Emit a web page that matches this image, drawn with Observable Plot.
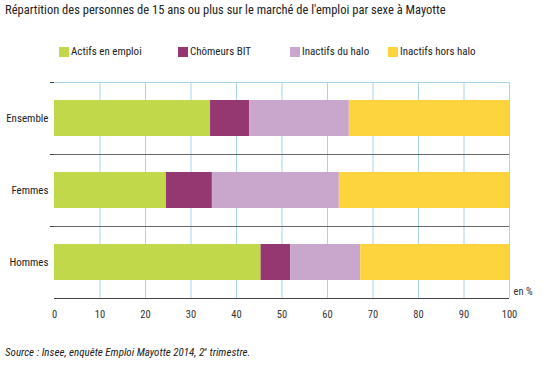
<!DOCTYPE html>
<html><head><meta charset="utf-8">
<script src="https://cdn.jsdelivr.net/npm/d3@7"></script>
<script src="https://cdn.jsdelivr.net/npm/@observablehq/plot@0.6"></script>
<style>
body{margin:0;background:#fff;font-family:"Roboto Condensed","Liberation Sans",Arial,sans-serif;color:#222;width:553px;height:369px;overflow:hidden}
#title{position:absolute;left:5px;top:2px;font-size:12.5px;white-space:nowrap;color:#222}
#legend{position:absolute;left:0;top:46px;font-size:11px;color:#222}
.li{position:absolute;top:0;white-space:nowrap;height:12px;line-height:12px}
.sw{position:absolute;left:0;top:1px;width:10px;height:10px}
.lt{position:absolute;left:12px;top:0}
#chart{position:absolute;left:0;top:70px}
#src{position:absolute;left:5px;top:345px;font-size:11px;font-style:italic;white-space:nowrap;color:#222}
</style></head><body>
<div id="title">Répartition des personnes de 15 ans ou plus sur le marché de l'emploi par sexe à Mayotte</div>
<div id="legend"></div>
<div id="chart"></div>
<div id="src">Source : Insee, enquête Emploi Mayotte 2014, 2<sup style="font-size:6px">e</sup> trimestre.</div>
<script>
const categories = ["Ensemble", "Femmes", "Hommes"];
const series = ["Actifs en emploi", "Chômeurs BIT", "Inactifs du halo", "Inactifs hors halo"];
const actifs = [34.3, 24.6, 45.4];
const chomeurs = [8.6, 10.1, 6.5];
const halo = [21.9, 27.9, 15.4];
const horsHalo = [35.2, 37.4, 32.7];
const xTicks = [0, 10, 20, 30, 40, 50, 60, 70, 80, 90, 100];
const colors = ["#c0d84a", "#953770", "#c9a7cd", "#fdd43d"];

const values = [actifs, chomeurs, halo, horsHalo];
const data = [];
series.forEach((s, si) => categories.forEach((c, ci) => data.push({cat: c, series: s, value: values[si][ci]})));

const legendX = [59, 178, 290, 388];
const leg = document.getElementById("legend");
series.forEach((s, i) => {
  const d = document.createElement("div");
  d.className = "li"; d.style.left = legendX[i] + "px";
  d.innerHTML = `<span class="sw" style="background:${colors[i]}"></span><span class="lt">${s}</span>`;
  leg.appendChild(d);
});

const plot = Plot.plot({
  width: 553, height: 260,
  marginLeft: 54, marginRight: 44, marginTop: 12, marginBottom: 32,
  style: {fontFamily: '"Roboto Condensed","Liberation Sans",Arial,sans-serif', fontSize: "10px", color: "#333", background: "#fff"},
  x: {domain: [0, 100], ticks: xTicks, label: null, tickSize: 0, tickPadding: 12},
  y: {domain: categories, paddingInner: 0.5, paddingOuter: 0.25, label: null, tickSize: 0, tickPadding: 6},
  color: {domain: series, range: colors},
  marks: [
    Plot.ruleX(xTicks.slice(1), {stroke: "#a9d3ea", strokeWidth: 1}),
    Plot.ruleY([categories[0]], {dy: -36, x1: 0, x2: 100, stroke: "#a9d3ea"}),
    Plot.barX(data, Plot.stackX({y: "cat", x: "value", fill: "series", order: series})),
    Plot.ruleY(categories.slice(1), {dy: -36, x1: 0, x2: 100, stroke: "#666"}),
    Plot.ruleY(categories, {dy: -36, x1: -0.9, x2: 0, stroke: "#444"}),
    Plot.ruleY([categories[2]], {dy: 36, x1: 0, x2: 100, stroke: "#444"}),
    Plot.tickX(xTicks, {x: d => d, y: categories[2], dy: 38, stroke: "#444"}),
    Plot.ruleX([0], {stroke: "#444", y1: categories[0], y2: categories[2], insetTop: -36, insetBottom: -38}),
    Plot.axisX({ticks: xTicks, tickSize: 0, tickPadding: 12, anchor: "bottom", tickFormat: d => d, fontSize: 10.5}),
    Plot.axisY({tickSize: 0, tickPadding: 6, fontSize: 11, fill: "#222"}),
    Plot.text(["en %"], {frameAnchor: "bottom-right", dx: 4, dy: -4, text: d => d, textAnchor: "start", fontSize: 10.5})
  ]
});
document.getElementById("chart").appendChild(plot);
</script>
</body></html>
